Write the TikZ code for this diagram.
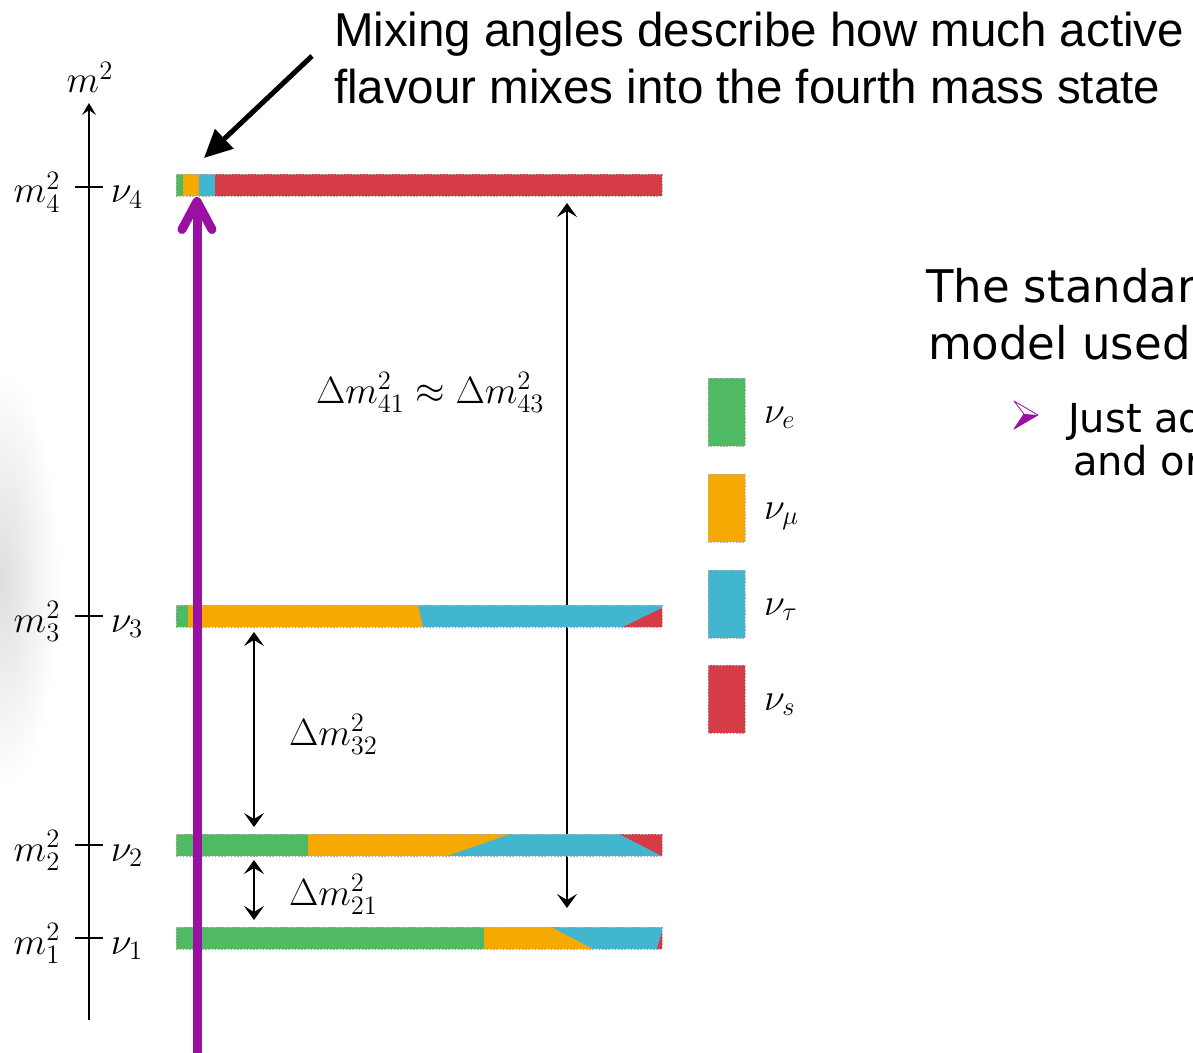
\RequirePackage{fix-cm}
\documentclass[tikz,border=0pt]{standalone}
\usepackage{fontspec}
\newfontfamily\calloutfont{Liberation Sans}
\newfontfamily\slidefont{DejaVu Sans}
\usetikzlibrary{arrows.meta,positioning}

\definecolor{nuegreen}{HTML}{4FB964}
\definecolor{numuorange}{HTML}{F6A900}
\definecolor{nutaucyan}{HTML}{42B5CF}
\definecolor{nusred}{HTML}{D63C46}
\definecolor{mixpurple}{HTML}{9A10A3}

\begin{document}
\begin{tikzpicture}[
    x=0.5pt, y=-0.5pt,
    line width=1pt,
    color=black,
    % Style for the dotted outline of the coloured bars
    bar edge/.style={draw=black!30, line width=0.3pt, dash pattern=on 0.8pt off 0.8pt},
    gap arrow/.style={line width=1pt,
        {Stealth[length=7pt,width=10pt,inset=3pt]}-{Stealth[length=7pt,width=10pt,inset=3pt]}},
    math label/.style={font=\fontsize{19}{23}\selectfont, inner sep=0pt, anchor=base},
    level tick/.style={line width=0.8pt}
]
    \useasboundingbox (0,0) rectangle (1193,1053);
    \clip (0,0) rectangle (1193,1053);

    % soft grey shadow on the left edge
    \shade[inner color=black!13, outer color=white] (0,580) ellipse [x radius=60, y radius=210];

    % ==========================
    % Mass axis with levels
    % ==========================
    \coordinate (axisfoot) at (89,1020);
    \coordinate (axistip) at (89,103);
    \draw[line width=1.1pt, -{Stealth[length=6pt,width=7pt,inset=2.5pt]}] (axisfoot) -- (axistip);
    \node[math label] (axislbl) at (90,93) {$m^2$};

    \foreach \lvl/\yy in {4/187, 3/616, 2/845, 1/938} {
        \draw[level tick] (75,\yy) -- (103,\yy);
        \node[math label] (msq\lvl) at (37,\yy+16) {$m^2_\lvl$};
        \node[math label] (nu\lvl) at (127,\yy+16) {$\nu_\lvl$};
    }

    % ==========================
    % Splitting arrows (behind the bars)
    % ==========================
    \coordinate (d41top) at (567,203);
    \coordinate (d41bot) at (567,908);
    \coordinate (d32top) at (254,632);
    \coordinate (d32bot) at (254,827);
    \coordinate (d21top) at (254,860);
    \coordinate (d21bot) at (254,920);
    \draw[gap arrow] (d41top) -- (d41bot);
    \draw[gap arrow] (d32top) -- (d32bot);
    \draw[gap arrow] (d21top) -- (d21bot);

    \node[math label, anchor=base west] (lbl41) at (315,403) {$\Delta m^2_{41} \approx \Delta m^2_{43}$};
    \node[math label, anchor=base west] (lbl32) at (288,745) {$\Delta m^2_{32}$};
    \node[math label, anchor=base west] (lbl21) at (288,905) {$\Delta m^2_{21}$};

    % ==========================
    % Bar nu_4
    % ==========================
    \begin{scope}[shift={(0,174)}]
        \fill[nusred] (176,0) rectangle (662,22);
        \fill[nuegreen] (176,0) rectangle (183,22);
        \fill[numuorange] (183,0) rectangle (199,22);
        \fill[nutaucyan] (199,0) rectangle (215,22);
        \draw[bar edge] (176,0) rectangle (662,22);
    \end{scope}

    % ==========================
    % Bar nu_3
    % ==========================
    \begin{scope}[shift={(0,605)}]
        \fill[nutaucyan] (176,0) rectangle (662,22);
        \fill[nuegreen] (176,0) rectangle (188,22);
        \fill[numuorange] (188,0) -- (418,0) -- (423,22) -- (188,22) -- cycle;
        \fill[nusred] (623,22) -- (662,3) -- (662,22) -- cycle;
        \draw[bar edge] (176,0) rectangle (662,22);
    \end{scope}

    % ==========================
    % Bar nu_2
    % ==========================
    \begin{scope}[shift={(0,834)}]
        \fill[nutaucyan] (176,0) rectangle (662,22);
        \fill[nuegreen] (176,0) rectangle (308,22);
        \fill[numuorange] (308,0) -- (510,0) -- (447,22) -- (308,22) -- cycle;
        \fill[nusred] (619,0) -- (662,0) -- (662,22) -- cycle;
        \draw[bar edge] (176,0) rectangle (662,22);
    \end{scope}

    % ==========================
    % Bar nu_1
    % ==========================
    \begin{scope}[shift={(0,927)}]
        \fill[nutaucyan] (176,0) rectangle (662,22);
        \fill[nuegreen] (176,0) rectangle (484,22);
        \fill[numuorange] (484,0) -- (551,0) -- (593,22) -- (484,22) -- cycle;
        \fill[nusred] (657,22) -- (662,5) -- (662,22) -- cycle;
        \draw[bar edge] (176,0) rectangle (662,22);
    \end{scope}

    % ==========================
    % Legend
    % ==========================
    \foreach \col/\flav/\yy in {nuegreen/e/378, numuorange/\mu/474, nutaucyan/\tau/570, nusred/s/665} {
        \fill[\col] (708,\yy) rectangle (745,\yy+68);
        \draw[bar edge] (708,\yy) rectangle (745,\yy+68);
        \node[math label, anchor=base west] at (763,\yy+45) {$\nu_\flav$};
    }

    % ==========================
    % Purple arrow and callout
    % ==========================
    \coordinate (mixfoot) at (197,1060);
    \coordinate (mixtip) at (197,197);
    \draw[mixpurple, line width=4.5pt, -{Straight Barb[length=14pt,width=15pt,round]}] (mixfoot) -- (mixtip);

    \node[font=\calloutfont\fontsize{23.75}{28}\selectfont, inner sep=0pt, anchor=base west]
        (mixline1) at (333,47) {Mixing angles describe how much active};
    \node[font=\calloutfont\fontsize{23.75}{28}\selectfont, inner sep=0pt, anchor=base west]
        (mixline2) at (333,104) {flavour mixes into the fourth mass state};
    \coordinate (calloutstart) at (312,56);
    \coordinate (callouttip) at (204,158);
    \draw[line width=2.5pt, -{Triangle[length=14pt,width=13pt]}] (calloutstart) -- (callouttip);

    % ==========================
    % Slide text on the right
    % ==========================
    \node[font=\slidefont\fontsize{22.5}{27}\selectfont, inner sep=0pt, anchor=base west]
        (slide1) at (925,303) {The standar};
    \node[font=\slidefont\fontsize{22.5}{27}\selectfont, inner sep=0pt, anchor=base west]
        (slide2) at (927,360) {model used};
    \draw[mixpurple, line width=0.4pt, line join=round] (1014,401) -- (1038,415) -- (1014,429) -- (1024,414) -- cycle;
    \fill[mixpurple] (1024,414) -- (1038,415) -- (1014,429) -- cycle;
    \node[font=\slidefont\fontsize{20}{24}\selectfont, inner sep=0pt, anchor=base west]
        (bullet1) at (1067,432) {Just ad};
    \node[font=\slidefont\fontsize{20}{24}\selectfont, inner sep=0pt, anchor=base west]
        (bullet2) at (1072,475) {and or};

\end{tikzpicture}
\end{document}
